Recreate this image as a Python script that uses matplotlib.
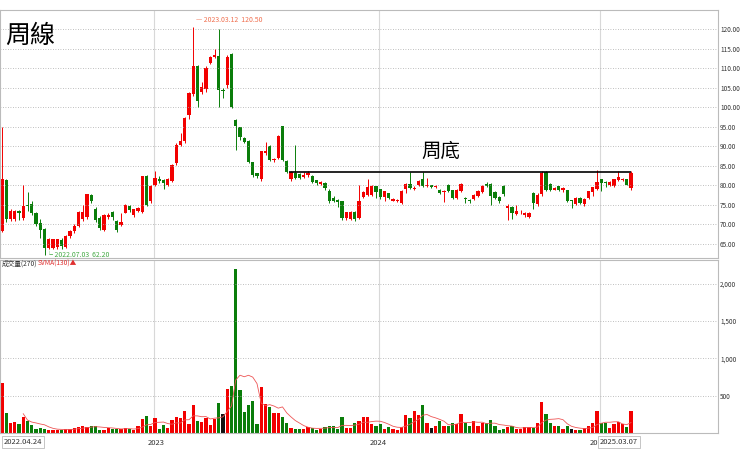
import matplotlib
matplotlib.use("Agg")
import matplotlib.pyplot as plt
import numpy as np
import pandas as pd

plt.rcParams['font.family'] = ['Noto Sans CJK TC', 'DejaVu Sans']

ohlc = [
(68.2,81.4,95,68),(81.1,71.4,81.5,70.5),(71.4,73.2,74,71),(71.5,73.2,73.8,71),(73.3,73.0,73.8,71.2),
(71.6,74.5,80,71.2),(74.8,74.6,78.2,73.5),(75,72.9,76,72.5),(72.9,70.1,73.2,69.5),(70.1,68.6,71.5,66.5),
(68.6,63.9,69,62.2),(64,66.2,66.5,63.8),(64,66.0,66.3,63.8),(64.2,66.0,66.3,63.6),(65.8,64.5,66.5,63.8),
(64.3,67,67.3,64),(67,68.2,68.5,66.5),(68.2,69.5,70,67.8),(69.6,73.1,73.5,69.3),(71.4,73.1,75,70.8),
(71.9,77.6,77.8,71.5),(77.5,76,77.8,75.5),(73.7,71.2,74.5,70.5),(71.6,69,72.2,68.5),(68.6,72.2,72.6,68.3),
(72.0,72.3,72.8,71.5),(73.0,71.9,73.5,71.2),(70.7,68.6,71.2,68),(69.8,70.4,73,69.5),(73,74.9,75.2,72.8),
(74.6,73.7,75,73.2),(72.4,73.7,74,72),(73.4,74.1,74.5,73.1),(73.3,82.2,82.5,73),(82.2,75,82.6,74.6),
(75.9,79.8,80.2,75.5),(80.2,81.7,83.8,79.8),(81.5,81.0,82.5,80.5),(81.1,80.6,81.5,79),(80.2,81.5,82,79.8),
(81,85,85.4,80.8),(85.6,90.3,90.8,85.3),(90.3,91.2,93.3,90),(91.4,97,97.5,90.9),(98,103.4,103.8,97),
(103.4,110.5,120.5,103),(110.5,101.6,110.8,100),(103.8,105,106.5,103.3),(104.8,110,110.5,104),(111.3,112.8,113.2,111),
(112.8,113.2,115,112.5),(113,104.3,120,100),(104.3,104.2,105,102.3),(105.7,112.8,113.5,105),(113.6,100,113.8,99.8),
(96.5,95.2,97,89),(94.8,92.5,95,91.5),(92,91.2,92.4,90.8),(91.2,86,91.5,85.6),(85.8,82.7,86,82.2),
(82.9,82.3,83.2,81.8),(81.5,88.6,88.9,81),(88.2,88.7,91.2,87.9),(89.8,86.6,90.4,86.2),(86.4,86.7,87,86),
(87,92.6,93,86.7),(95,86.5,95.3,86.2),(86.2,83.5,86.5,83.2),(81.5,83.3,83.6,81),(83.1,82,90.3,81.7),
(82.8,82,83.2,81.6),(82.2,82.5,83.5,81.9),(82.6,82.9,83.6,82.2),(82.2,80.9,82.6,80.5),(81.1,80.5,81.4,80.2),
(80.3,80.6,81,80),(80.5,79.2,80.8,78.8),(78.5,76.1,79,75.6),(76.5,76.1,77.4,75.8),(76.1,75.8,76.4,74.4),
(75.8,71.6,76,71.2),(71.6,73,73.3,71.2),(71.4,73.1,73.4,71.1),(73.1,71.5,73.4,71),(71.6,75.8,80,71.3),
(77.1,78.1,78.5,76.8),(77.5,79.4,81.7,77.2),(77.5,79.6,80,77.2),(79.6,78.3,79.8,76.8),(78.8,77,79,76.4),
(77,78.3,78.6,75.9),(77.8,76.8,78,76.5),(76.1,76.4,76.8,75.9),(75.9,76.2,76.5,75.7),(75.4,78.5,78.8,75.1),
(79,80.3,80.5,78),(80.2,79.3,83.3,79),(79.1,79.2,79.8,78.8),(80.2,81,81.3,79.8),(81.6,79.9,83.3,79.5),
(79.8,80,81.9,79.5),(79.9,79.7,80.2,79.4),(79.5,79.7,80,79.3),(78.6,78.1,79,77.8),(78.3,78.3,78.7,75.8),
(80,78.6,80.4,78.2),(78.6,76.8,78.9,76.4),(76.8,78.6,79,76.5),(78.6,80.3,80.7,78.3),(76.6,76.4,77,75.6),
(76.2,75.9,76.6,75.6),(76.6,77.5,77.8,76.3),(77.2,78.4,78.7,76.9),(78.4,79.7,80,78.1),(80.3,79.9,80.8,79.6),
(80.3,77.2,80.6,75),(78.2,76.8,78.5,76.5),(76.8,75.9,77.2,75.6),(79.7,77.7,80,77.4),(74.2,74.6,75.1,71.2),
(74.4,73,74.8,71.5),(72.6,73.3,75,72.3),(73.1,73.1,73.6,72.6),(72.3,72.9,73.3,72),(72,72.9,73.2,71.6),
(77.9,75.4,78.2,74),(75.2,77.5,78,74.8),(77.7,82.9,83.8,77.4),(83.2,78.9,83.6,78.6),(80.2,78.9,80.5,78.6),
(78.9,79.2,79.5,78.7),(79.6,78.8,79.9,78.5),(78.9,79.2,79.5,78.2),(78.6,76.1,78.9,75.8),(76.1,76,76.3,74.2),
(75.3,76.6,76.9,75),(76.7,75.6,77,75.3),(75.1,76.4,76.8,74.8),(76.7,78.3,78.6,76.4),(78.3,79.4,79.7,77.4),
(79.1,80.8,84,78.9),(81.4,80.6,81.7,78.5),(80.6,80.5,81.2,79.5),(80.1,80.6,81,79.9),(79.9,81.4,81.7,79.5),
(81.4,82,83.6,81),(81.3,81.4,81.8,81),(81.4,80.2,81.7,80),(79.2,82.9,83.6,78.9),
]
volume = [670,270,130,150,120,210,160,110,60,65,55,45,40,45,40,55,55,70,80,90,80,100,90,45,45,65,60,60,50,65,
          50,35,90,185,230,100,205,50,110,65,175,210,195,300,125,380,165,145,205,110,190,400,255,585,635,2200,575,275,375,435,
          115,620,390,345,265,265,215,140,65,55,60,60,85,65,45,60,80,100,90,60,220,65,65,135,155,220,220,125,100,125,
          55,80,60,45,80,235,200,290,245,380,140,65,100,165,100,100,130,125,255,130,100,155,100,130,130,175,100,45,60,75,
          100,60,60,75,80,65,140,415,260,140,100,100,55,90,55,45,45,65,90,140,300,140,130,65,125,145,125,80,300]
neutral_weeks = [52, 101, 134]
start_date = "2022-04-24"
bottom_level = 83.3
price_ticks = [65, 70, 75, 80, 85, 90, 95, 100, 105, 110, 115, 120]
vol_ticks = [500, 1000, 1500, 2000]

o = np.array([r[0] for r in ohlc]); c = np.array([r[1] for r in ohlc])
h = np.array([r[2] for r in ohlc]); l = np.array([r[3] for r in ohlc])
n = len(o); x = np.arange(n)
dates = pd.date_range(start_date, periods=n, freq="7D")
RED, GREEN = '#f20000', '#0a7d0a'
col = np.where(c >= o, RED, GREEN)
vcol = col.copy()
for k in neutral_weeks:
    vcol[k] = '#111111'

fig = plt.figure(figsize=(7.4, 4.5), dpi=100)
W, H = 740, 450
axv = fig.add_axes([0, 1 - 433 / H, 718 / W, 173 / H])
axp = fig.add_axes([0, 1 - 258 / H, 718 / W, 248 / H])
axp.patch.set_alpha(0)
xl = (-2 / 4.25, 716 / 4.25)
yearx = [i for i in range(1, n) if dates[i].year != dates[i - 1].year]

for ax in (axp, axv):
    ax.set_xlim(*xl)
    for s in ax.spines.values():
        s.set_color('#bbbbbb'); s.set_linewidth(0.8)
    ax.yaxis.tick_right()
    ax.tick_params(axis='y', length=0, labelsize=4.6, labelcolor='#333333', pad=1.5)
    ax.set_xticks([])
    ax.grid(axis='y', linestyle=(0, (1, 2)), color='#aaaaaa', linewidth=0.6)
    for yx in yearx:
        ax.axvline(yx - 0.3, color='#d8d8d8', linewidth=0.8, zorder=0)

axp.vlines(x, l, h, colors=col, linewidth=0.7)
axp.bar(x, np.abs(c - o) + 0.15, bottom=np.minimum(o, c), width=0.75, color=col)
axp.set_ylim(61.4, 124.9)
axp.set_yticks(price_ticks)
axp.set_yticklabels([f"{t:.2f}" for t in price_ticks])
axp.hlines(bottom_level, 67.5, n - 1, color='black', linewidth=1.2)

axv.bar(x, volume, width=0.78, color=vcol)
svma = pd.Series(volume, dtype=float).rolling(6).mean()
axv.plot(x, svma, color='#ee5555', linewidth=0.6)
axv.set_ylim(0, 2320)
axv.set_yticks(vol_ticks)
axv.set_yticklabels([f"{t:,}" for t in vol_ticks])

hi = int(np.argmax(h)); lo = int(np.argmin(l))
axp.annotate("— 2023.03.12  120.50", (hi, h[hi]), xytext=(2, 2), textcoords='offset points',
             fontsize=5, color='#f07050', va='bottom')
axp.annotate("└ 2022.07.03  62.20", (lo, l[lo]), xytext=(1, 0), textcoords='offset points',
             fontsize=5, color='#44aa44', va='center')

fig.text(5 / W, 1 - 36 / H, "周線", fontsize=18, va='center', ha='left')
fig.text(441 / W, 1 - 151 / H, "周底", fontsize=14, va='center', ha='center')
fig.text(2 / W, 1 - 264 / H, "成交量(270)", fontsize=4.8, color='#333333', va='center')
fig.text(38 / W, 1 - 264 / H, "SVMA(130)▲", fontsize=4.8, color='#e03030', va='center')

bb = dict(boxstyle='square,pad=0.2', fc='white', ec='#bbbbbb', lw=0.6)
fig.text(4 / W, 1 - 442 / H, "2022.04.24", fontsize=5.5, va='center', color='#333333', bbox=bb)
fig.text(148 / W, 1 - 443 / H, "2023", fontsize=5.5, va='center', color='#333333')
fig.text(370 / W, 1 - 443 / H, "2024", fontsize=5.5, va='center', color='#333333')
fig.text(590 / W, 1 - 443 / H, "20", fontsize=5.5, va='center', color='#333333')
fig.text(600 / W, 1 - 442 / H, "2025.03.07", fontsize=5.5, va='center', color='#333333', bbox=bb)

fig.savefig("out.png", dpi=100, facecolor='white')
